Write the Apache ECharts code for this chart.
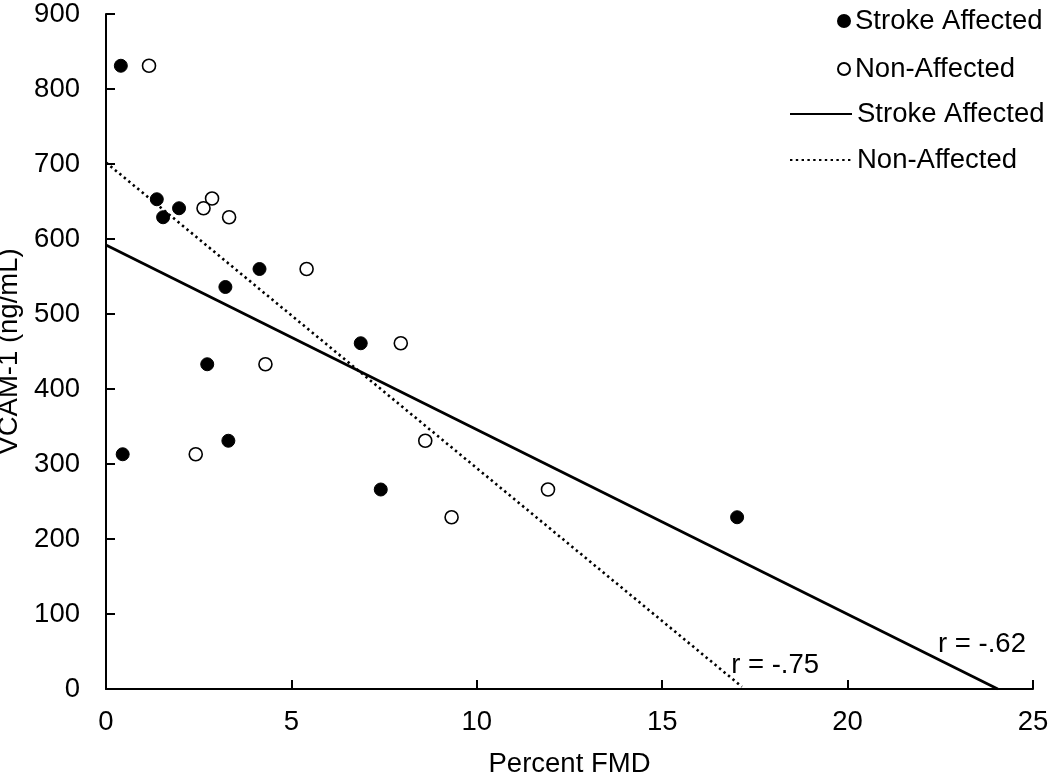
<!DOCTYPE html>
<html>
<head>
<meta charset="utf-8">
<script src="https://cdn.jsdelivr.net/npm/echarts@6/dist/echarts.min.js"></script>
<style>
  html, body { margin: 0; padding: 0; background: #fff; }
  #chart { width: 1050px; height: 773px; }
</style>
</head>
<body>
<div id="chart"></div>
<script>
// ---- data ----
const strokeX = [0.40, 1.37, 1.54, 1.97, 4.14, 3.22, 2.73, 0.45, 3.30, 7.41, 6.87, 17.02];
const strokeY = [831, 653, 629, 641, 560, 536, 433, 313, 331, 266, 461, 229];
const nonX = [1.16, 2.86, 2.63, 3.32, 5.41, 4.30, 2.42, 8.61, 9.32, 11.92, 7.95];
const nonY = [831, 654, 641, 629, 560, 433, 313, 331, 229, 266, 461];
const strokeFitX = [0, 24.05];
const strokeFitY = [592, 0];
const nonFitX = [0, 17.15];
const nonFitY = [702, 3];
const rStrokeText = 'r = -.62';
const rNonText = 'r = -.75';
const rStrokePos = [22.44, 60];
const rNonPos = [16.86, 32];
const xTicks = [0, 5, 10, 15, 20, 25];
const yTicks = [0, 100, 200, 300, 400, 500, 600, 700, 800, 900];
const seriesNames = ['Stroke Affected', 'Non-Affected', 'Stroke Affected\u200b', 'Non-Affected\u200b'];

const FONT = 'Liberation Sans';
const FS = 27.5;
const zip = (a, b) => a.map((v, i) => [v, b[i]]);

const chart = echarts.init(document.getElementById('chart'), null, { renderer: 'canvas' });

const legendText = { fontFamily: FONT, fontSize: FS, color: '#000' };
const strip = n => n.replace(/\u200b/g, '');
const legendBase = { padding: 0, textStyle: legendText, formatter: strip, selectedMode: false };

const option = {
  backgroundColor: '#fff',
  animation: false,
  grid: { left: 106, right: 17, top: 14, bottom: 84, outerBoundsMode: 'none', containLabel: false },
  legend: [
    Object.assign({ data: [seriesNames[0]], left: 837, top: 7, itemWidth: 12, itemHeight: 12 }, legendBase),
    Object.assign({ data: [seriesNames[1]], left: 837, top: 55, itemWidth: 12, itemHeight: 12 }, legendBase),
    Object.assign({ data: [seriesNames[2]], left: 789, top: 100, itemWidth: 62, itemHeight: 12, itemStyle: { opacity: 0 } }, legendBase),
    Object.assign({ data: [seriesNames[3]], left: 789, top: 146, itemWidth: 62, itemHeight: 12, itemStyle: { opacity: 0 } }, legendBase)
  ],
  xAxis: {
    type: 'value', min: xTicks[0], max: xTicks[xTicks.length - 1], interval: 5,
    name: 'Percent FMD', nameLocation: 'middle', nameGap: 61,
    nameTextStyle: { fontFamily: FONT, fontSize: FS, color: '#000' },
    axisLine: { show: true, onZero: false, lineStyle: { color: '#000', width: 2 } },
    axisTick: { show: true, inside: true, length: 9, lineStyle: { color: '#000', width: 2 } },
    axisLabel: { fontFamily: FONT, fontSize: FS, color: '#000', margin: 19, showMinLabel: true, showMaxLabel: true },
    splitLine: { show: false }
  },
  yAxis: {
    type: 'value', min: yTicks[0], max: yTicks[yTicks.length - 1], interval: 100,
    name: 'VCAM-1 (ng/mL)', nameLocation: 'middle', nameGap: 78,
    nameTextStyle: { fontFamily: FONT, fontSize: FS, color: '#000' },
    axisLine: { show: true, onZero: false, lineStyle: { color: '#000', width: 2 } },
    axisTick: { show: true, inside: true, length: 9, lineStyle: { color: '#000', width: 2 } },
    axisLabel: { fontFamily: FONT, fontSize: FS, color: '#000', margin: 26 },
    splitLine: { show: false }
  },
  series: [
    {
      name: seriesNames[0], type: 'scatter', symbol: 'circle', symbolSize: 13,
      itemStyle: { color: '#000', borderColor: '#000', borderWidth: 1, opacity: 1 },
      data: zip(strokeX, strokeY), z: 5
    },
    {
      name: seriesNames[1], type: 'scatter', symbol: 'circle', symbolSize: 13,
      itemStyle: { color: '#fff', borderColor: '#000', borderWidth: 1.6, opacity: 1 },
      data: zip(nonX, nonY), z: 5
    },
    {
      name: seriesNames[2], type: 'line', symbol: 'none', showSymbol: false,
      lineStyle: { color: '#000', width: 2.8, type: 'solid' },
      itemStyle: { color: '#000' },
      data: zip(strokeFitX, strokeFitY), z: 3,
      markPoint: {
        symbol: 'circle', symbolSize: 0,
        label: { show: true, position: 'right', distance: 0, formatter: rStrokeText, fontFamily: FONT, fontSize: FS, color: '#000' },
        data: [{ coord: rStrokePos }]
      }
    },
    {
      name: seriesNames[3], type: 'line', symbol: 'none', showSymbol: false,
      lineStyle: { color: '#000', width: 2.6, type: [2.4, 3.4] },
      itemStyle: { color: '#000' },
      data: zip(nonFitX, nonFitY), z: 3,
      markPoint: {
        symbol: 'circle', symbolSize: 0,
        label: { show: true, position: 'right', distance: 0, formatter: rNonText, fontFamily: FONT, fontSize: FS, color: '#000' },
        data: [{ coord: rNonPos }]
      }
    }
  ]
};
chart.setOption(option);
</script>
</body>
</html>
